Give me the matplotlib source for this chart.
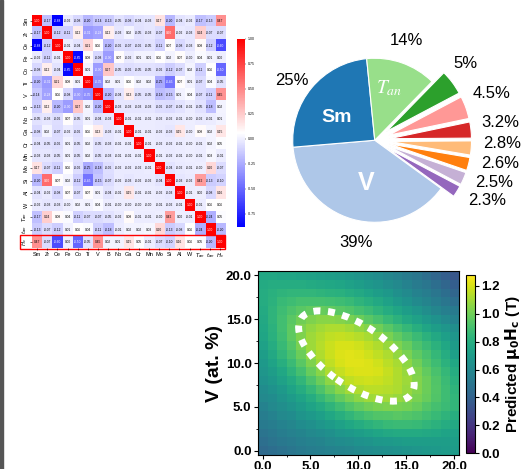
import numpy as np
import matplotlib
matplotlib.use("Agg")
import matplotlib.pyplot as plt
from matplotlib.patches import Rectangle, Ellipse

plt.rcParams['font.family'] = ['Liberation Sans', 'DejaVu Sans']

# ---------------- correlation matrix (upper triangle, row by row) ----------------
features = ['Sm', 'Zr', 'Ce', 'Fe', 'Co', 'Ti', 'V', 'B', 'Nb', 'Ga', 'Cr', 'Mn',
            'Mo', 'Si', 'Al', 'W', r'$T_{an}$', r'$t_{an}$', r'$H_c$']

upper = [
    [-0.17, -0.88, -0.02, -0.08, -0.20, -0.14, -0.13, -0.05, -0.08, -0.04, -0.03, 0.17, -0.20, -0.04, -0.02, -0.17, -0.13, 0.47],
    [-0.12, -0.11, 0.12, -0.31, -0.28, 0.12, -0.03, 0.02, -0.05, -0.03, -0.07, 0.60, -0.02, -0.03, 0.24, -0.07, -0.07],
    [-0.01, -0.04, 0.21, 0.06, -0.20, -0.06, -0.07, -0.06, -0.05, -0.11, 0.07, -0.08, -0.03, 0.08, -0.12, -0.60],
    [-0.85, 0.08, -0.08, -0.30, 0.07, -0.02, 0.01, 0.01, 0.06, 0.02, 0.07, -0.00, 0.04, 0.01, 0.00],
    [0.01, -0.30, 0.27, -0.05, -0.06, -0.05, -0.05, -0.06, -0.12, -0.07, 0.02, -0.11, 0.06, -0.50],
    [-0.35, 0.02, 0.01, 0.06, 0.02, 0.02, -0.25, -0.45, 0.07, 0.01, -0.07, 0.04, -0.05],
    [-0.20, -0.04, 0.13, -0.05, -0.05, -0.18, -0.15, 0.01, 0.04, -0.07, -0.11, 0.45],
    [-0.03, -0.03, -0.03, -0.03, -0.06, -0.07, -0.04, -0.01, -0.05, -0.18, 0.02],
    [-0.01, -0.01, -0.01, -0.02, -0.02, -0.01, -0.00, -0.02, -0.01, 0.01],
    [-0.01, -0.01, -0.02, -0.03, 0.15, -0.00, 0.08, 0.02, 0.15],
    [-0.01, -0.02, -0.02, -0.01, -0.00, -0.01, 0.02, 0.05],
    [-0.01, -0.02, -0.01, -0.00, -0.01, 0.03, -0.01],
    [-0.04, -0.02, -0.01, -0.00, 0.20, -0.07],
    [-0.03, -0.02, 0.42, -0.13, -0.10],
    [-0.01, 0.00, -0.08, 0.16],
    [-0.01, 0.06, 0.06],
    [-0.24, 0.05],
    [-0.20],
]

# ---------------- pie chart ----------------
pie_values = [39, 25, 14, 5, 4.5, 3.2, 2.8, 2.6, 2.5, 2.3]
pie_labels = ['39%', '25%', '14%', '5%', '4.5%', '3.2%', '2.8%', '2.6%', '2.5%', '2.3%']
pie_colors = ['#aec7e8', '#1f77b4', '#98df8a', '#2ca02c', '#ff9896', '#d62728',
              '#ffbb78', '#ff7f0e', '#c5b0d5', '#9467bd']

# ---------------- predicted Hc map (rows: V = 0 .. 20, cols: x = 0 .. 20) ----------------
hc_grid = [
    [0.44, 0.46, 0.48, 0.50, 0.52, 0.54, 0.55, 0.57, 0.58, 0.59, 0.61, 0.62, 0.63, 0.64, 0.65, 0.66, 0.67, 0.68, 0.69, 0.70, 0.70],
    [0.47, 0.49, 0.51, 0.53, 0.55, 0.57, 0.58, 0.60, 0.62, 0.63, 0.65, 0.66, 0.68, 0.69, 0.70, 0.71, 0.71, 0.71, 0.71, 0.71, 0.71],
    [0.49, 0.51, 0.54, 0.56, 0.58, 0.60, 0.62, 0.64, 0.67, 0.69, 0.71, 0.73, 0.75, 0.77, 0.78, 0.78, 0.78, 0.77, 0.76, 0.74, 0.73],
    [0.52, 0.54, 0.57, 0.59, 0.62, 0.64, 0.67, 0.70, 0.73, 0.76, 0.79, 0.82, 0.84, 0.86, 0.87, 0.87, 0.86, 0.84, 0.82, 0.79, 0.77],
    [0.54, 0.57, 0.60, 0.62, 0.66, 0.69, 0.72, 0.76, 0.80, 0.84, 0.88, 0.91, 0.93, 0.94, 0.95, 0.94, 0.92, 0.89, 0.86, 0.83, 0.80],
    [0.57, 0.60, 0.63, 0.66, 0.70, 0.74, 0.78, 0.83, 0.88, 0.93, 0.97, 1.00, 1.02, 1.03, 1.02, 1.01, 0.98, 0.94, 0.90, 0.87, 0.84],
    [0.60, 0.62, 0.66, 0.70, 0.74, 0.79, 0.85, 0.91, 0.97, 1.02, 1.06, 1.09, 1.10, 1.10, 1.08, 1.06, 1.02, 0.98, 0.93, 0.88, 0.84],
    [0.62, 0.65, 0.69, 0.74, 0.79, 0.85, 0.92, 0.99, 1.05, 1.10, 1.13, 1.15, 1.15, 1.14, 1.12, 1.08, 1.04, 0.99, 0.94, 0.88, 0.83],
    [0.65, 0.68, 0.73, 0.78, 0.84, 0.92, 0.99, 1.06, 1.12, 1.16, 1.18, 1.19, 1.18, 1.16, 1.13, 1.09, 1.04, 0.99, 0.93, 0.87, 0.81],
    [0.67, 0.71, 0.76, 0.83, 0.90, 0.98, 1.05, 1.12, 1.17, 1.20, 1.21, 1.21, 1.20, 1.17, 1.13, 1.08, 1.03, 0.97, 0.91, 0.85, 0.79],
    [0.69, 0.74, 0.80, 0.87, 0.95, 1.03, 1.10, 1.16, 1.20, 1.22, 1.22, 1.21, 1.19, 1.15, 1.11, 1.06, 1.00, 0.94, 0.88, 0.82, 0.76],
    [0.71, 0.77, 0.84, 0.91, 0.99, 1.07, 1.13, 1.18, 1.21, 1.22, 1.21, 1.19, 1.16, 1.12, 1.07, 1.02, 0.96, 0.91, 0.85, 0.79, 0.72],
    [0.73, 0.79, 0.86, 0.94, 1.02, 1.09, 1.14, 1.18, 1.20, 1.20, 1.19, 1.16, 1.13, 1.08, 1.03, 0.98, 0.92, 0.87, 0.82, 0.76, 0.70],
    [0.75, 0.81, 0.88, 0.96, 1.03, 1.09, 1.13, 1.16, 1.17, 1.16, 1.14, 1.11, 1.07, 1.02, 0.97, 0.92, 0.87, 0.82, 0.77, 0.72, 0.67],
    [0.76, 0.82, 0.89, 0.96, 1.03, 1.07, 1.10, 1.12, 1.12, 1.10, 1.07, 1.04, 1.00, 0.95, 0.90, 0.85, 0.80, 0.75, 0.71, 0.67, 0.63],
    [0.77, 0.83, 0.89, 0.95, 1.00, 1.03, 1.05, 1.05, 1.04, 1.02, 0.99, 0.95, 0.91, 0.86, 0.82, 0.77, 0.73, 0.69, 0.65, 0.61, 0.57],
    [0.78, 0.83, 0.88, 0.92, 0.95, 0.97, 0.98, 0.97, 0.95, 0.93, 0.90, 0.87, 0.83, 0.79, 0.75, 0.71, 0.67, 0.63, 0.59, 0.55, 0.52],
    [0.79, 0.82, 0.86, 0.88, 0.90, 0.90, 0.90, 0.89, 0.88, 0.86, 0.83, 0.80, 0.77, 0.73, 0.69, 0.65, 0.61, 0.58, 0.54, 0.50, 0.47],
    [0.79, 0.81, 0.83, 0.84, 0.84, 0.84, 0.83, 0.82, 0.81, 0.79, 0.77, 0.74, 0.71, 0.68, 0.64, 0.61, 0.57, 0.54, 0.50, 0.46, 0.42],
    [0.78, 0.79, 0.79, 0.79, 0.79, 0.78, 0.77, 0.76, 0.75, 0.73, 0.71, 0.68, 0.66, 0.63, 0.60, 0.57, 0.53, 0.50, 0.46, 0.42, 0.38],
    [0.76, 0.76, 0.75, 0.75, 0.74, 0.73, 0.72, 0.71, 0.70, 0.68, 0.66, 0.64, 0.62, 0.59, 0.56, 0.53, 0.50, 0.46, 0.42, 0.38, 0.34],
]

n = len(features)
corr = np.eye(n)
for i, row in enumerate(upper):
    for k, v in enumerate(row):
        j = i + 1 + k
        corr[i, j] = v
        corr[j, i] = v

fig = plt.figure(figsize=(5.25, 4.69), dpi=100)
fig.patches.append(Rectangle((0, 0), 3 / 525, 1, transform=fig.transFigure,
                             color='#555555', zorder=10))

# ---- correlation heatmap ----
ax1 = fig.add_axes([0.061, 0.471, 0.368, 0.497])
cmap = plt.get_cmap('bwr')
norm = plt.Normalize(vmin=-0.88, vmax=1.0)
im = ax1.imshow(corr, cmap=cmap, norm=norm, aspect='auto')
for i in range(n):
    for j in range(n):
        r, g, b, _ = cmap(norm(corr[i, j]))
        lin = [c / 12.92 if c <= 0.03928 else ((c + 0.055) / 1.055) ** 2.4 for c in (r, g, b)]
        lum = 0.2126 * lin[0] + 0.7152 * lin[1] + 0.0722 * lin[2]
        ax1.text(j, i, f'{corr[i, j]:.2f}', ha='center', va='center', fontsize=2.3,
                 color='white' if lum < 0.408 else 'black')
ax1.set_xticks(range(n))
ax1.set_xticklabels(features, fontsize=4)
ax1.set_yticks(range(n))
ax1.set_yticklabels(features, fontsize=4, rotation=90, va='center')
ax1.tick_params(length=1.5, width=0.4, pad=1)
for s in ax1.spines.values():
    s.set_visible(False)
ax1.add_patch(Rectangle((-1.7, 17.45), 20.2, 1.15, fill=False, edgecolor='red',
                        linewidth=1.0, clip_on=False))

cax1 = fig.add_axes([0.451, 0.516, 0.015, 0.401])
cb1 = fig.colorbar(im, cax=cax1, ticks=[-0.75, -0.5, -0.25, 0, 0.25, 0.5, 0.75, 1.0])
cb1.outline.set_visible(False)
cb1.ax.set_yticklabels(['-0.75', '-0.50', '-0.25', '0.00', '0.25', '0.50', '0.75', '1.00'])
cb1.ax.tick_params(labelsize=2.5, length=1, width=0.3, pad=1)

# ---- pie chart ----
ax2 = fig.add_axes([0.495, 0.4456, 0.5048, 0.5544])
explode = [0, 0, 0] + [0.18] * 7
ax2.pie(pie_values, colors=pie_colors, explode=explode, startangle=-36,
        counterclock=False, wedgeprops=dict(edgecolor='white', linewidth=0.8))
ax2.set_xlim(-1.40, 1.83)
ax2.set_ylim(-1.46, 1.71)
label_pos = [(-0.23, -1.25), (-1.01, 0.73), (0.39, 1.22), (1.11, 0.94), (1.43, 0.57),
             (1.53, 0.22), (1.55, -0.04), (1.53, -0.28), (1.46, -0.52), (1.37, -0.73)]
for txt, (x, y) in zip(pie_labels, label_pos):
    ax2.text(x, y, txt, ha='center', va='center', fontsize=12)
ax2.text(-0.47, 0.28, 'Sm', ha='center', va='center', fontsize=14, color='white',
         fontweight='bold')
ax2.text(-0.11, -0.52, 'V', ha='center', va='center', fontsize=18, color='white',
         fontweight='bold')
ax2.text(0.18, 0.63, r'$T_{an}$', ha='center', va='center', fontsize=14, color='white',
         math_fontfamily='stix')

# ---- predicted Hc map ----
ax3 = fig.add_axes([0.491, 0.030, 0.383, 0.392])
im3 = ax3.imshow(hc_grid, origin='lower', cmap='viridis', vmin=0, vmax=1.28,
                 extent=(-0.5, 20.5, -0.5, 20.5), aspect='auto')
ax3.add_patch(Ellipse((9.8, 10.8), 14.4, 6.7, angle=-38, fill=False, edgecolor='white',
                      linewidth=5, linestyle=(0, (1, 1.1))))
ticks = [0, 5, 10, 15, 20]
ax3.set_xticks(ticks)
ax3.set_yticks(ticks)
ax3.set_xticklabels([f'{t:.1f}' for t in ticks], fontsize=9.5, fontweight='bold')
ax3.set_yticklabels([f'{t:.1f}' for t in ticks], fontsize=9.5, fontweight='bold')
ax3.set_xticks([2.5, 7.5, 12.5, 17.5], minor=True)
ax3.set_yticks([2.5, 7.5, 12.5, 17.5], minor=True)
ax3.tick_params(length=3, width=0.8, pad=1.5)
ax3.tick_params(which='minor', length=1.5, width=0.6)
ax3.set_ylabel('V (at. %)', fontsize=14, fontweight='bold', labelpad=2)

cax3 = fig.add_axes([0.888, 0.034, 0.017, 0.380])
cb3 = fig.colorbar(im3, cax=cax3, ticks=[0, 0.2, 0.4, 0.6, 0.8, 1.0, 1.2])
cb3.ax.set_yticklabels(['0.0', '0.2', '0.4', '0.6', '0.8', '1.0', '1.2'],
                       fontsize=9.5, fontweight='bold')
cb3.ax.tick_params(length=3, width=0.8, pad=1.5)
cb3.set_label(r'Predicted $\mathbf{\mu_0H_c}$ (T)', fontsize=11, fontweight='bold',
              labelpad=2)

fig.savefig('out.png', dpi=100)
